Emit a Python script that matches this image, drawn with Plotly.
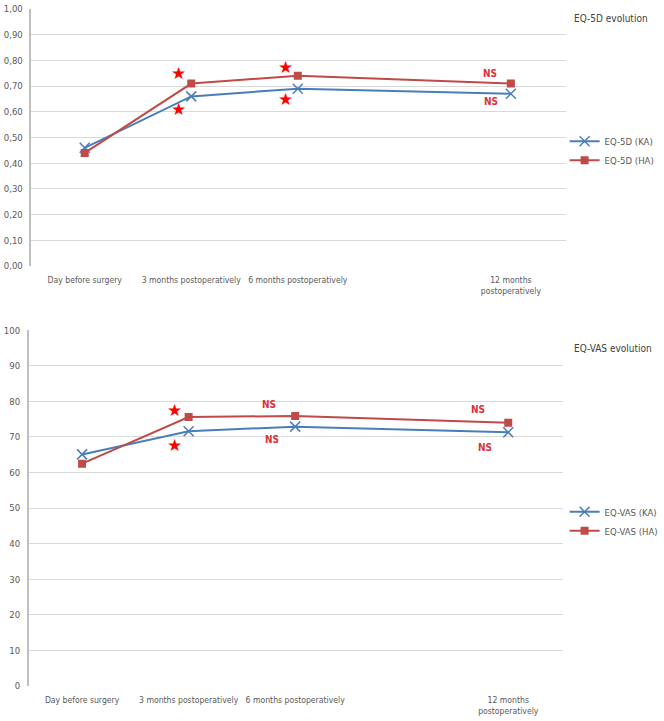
import plotly.graph_objects as go

# ---- data ----
months = [0, 3, 6, 12]
tick_labels = ["Day before surgery", "3 months postoperatively", "6 months postoperatively",
               "12 months<br>postoperatively"]

eq5d_ka = [0.46, 0.66, 0.69, 0.67]
eq5d_ha = [0.44, 0.71, 0.74, 0.71]
eqvas_ka = [65.1, 71.6, 72.9, 71.3]
eqvas_ha = [62.5, 75.6, 75.9, 74.0]

# significance labels: (month position, value, text)
eq5d_marks_x = [2.65, 2.65, 5.65, 5.65, 11.4, 11.45]
eq5d_marks_y = [0.75, 0.61, 0.775, 0.65, 0.75, 0.64]
eq5d_marks_t = ["★", "★", "★", "★", "NS", "NS"]

eqvas_marks_x = [2.6, 2.6, 5.25, 5.35, 11.15, 11.35]
eqvas_marks_y = [77.6, 67.7, 79.2, 69.2, 77.6, 67.0]
eqvas_marks_t = ["★", "★", "NS", "NS", "NS", "NS"]

BLUE = "#4a7ebb"
RED = "#be4b48"
GRID = "#d9d9d9"
TXT = "#595959"
FONT = "Liberation Sans Narrow, DejaVu Sans Condensed, Lato, sans-serif"

fig = go.Figure()

fig.add_trace(go.Scatter(x=months, y=eq5d_ka, name="EQ-5D (KA)", mode="lines+markers",
                         line=dict(color=BLUE, width=2),
                         marker=dict(symbol="x-thin", size=10, line=dict(color=BLUE, width=1.5)),
                         xaxis="x", yaxis="y", legend="legend"))
fig.add_trace(go.Scatter(x=months, y=eq5d_ha, name="EQ-5D (HA)", mode="lines+markers",
                         line=dict(color=RED, width=2),
                         marker=dict(symbol="square", size=8, color=RED),
                         xaxis="x", yaxis="y", legend="legend"))
fig.add_trace(go.Scatter(x=months, y=eqvas_ka, name="EQ-VAS (KA)", mode="lines+markers",
                         line=dict(color=BLUE, width=2),
                         marker=dict(symbol="x-thin", size=10, line=dict(color=BLUE, width=1.5)),
                         xaxis="x2", yaxis="y2", legend="legend2"))
fig.add_trace(go.Scatter(x=months, y=eqvas_ha, name="EQ-VAS (HA)", mode="lines+markers",
                         line=dict(color=RED, width=2),
                         marker=dict(symbol="square", size=8, color=RED),
                         xaxis="x2", yaxis="y2", legend="legend2"))

annotations = []
for xs, ys, ts, xr, yr in [(eq5d_marks_x, eq5d_marks_y, eq5d_marks_t, "x", "y"),
                           (eqvas_marks_x, eqvas_marks_y, eqvas_marks_t, "x2", "y2")]:
    for x, y, t in zip(xs, ys, ts):
        star = t == "★"
        annotations.append(dict(x=x, y=y, xref=xr, yref=yr, text=t if star else "<b>NS</b>",
                                showarrow=False,
                                font=dict(color="#ff0000" if star else "#e0303a",
                                          size=17 if star else 10,
                                          family="DejaVu Sans" if star else FONT)))

annotations.append(dict(x=0.873, y=0.974, xref="paper", yref="paper", text="EQ-5D evolution",
                        showarrow=False, xanchor="left", yanchor="middle",
                        font=dict(size=10, color="#404040", family=FONT)))
annotations.append(dict(x=0.873, y=0.516, xref="paper", yref="paper", text="EQ-VAS evolution",
                        showarrow=False, xanchor="left", yanchor="middle",
                        font=dict(size=10, color="#404040", family=FONT)))

xcommon = dict(tickmode="array", tickvals=months, ticktext=tick_labels, range=[-1.5, 13.55],
               showgrid=False, zeroline=False, showline=False, ticks="", tickangle=0,
               ticklabelstandoff=7,
               automargin=False, tickfont=dict(size=8.6, color=TXT, family=FONT))
ycommon = dict(showgrid=True, gridcolor=GRID, gridwidth=1.3, zeroline=False,
               showline=True, linecolor="#bfbfbf", linewidth=1.5, ticks="", automargin=False,
               ticklabelstandoff=5,
               tickfont=dict(size=9.5, color=TXT, family=FONT))

fig.update_layout(
    width=664, height=721,
    margin=dict(l=0, r=0, t=0, b=0),
    paper_bgcolor="white", plot_bgcolor="white",
    separators=",.",
    xaxis=dict(domain=[0.048, 0.864], anchor="y", **xcommon),
    yaxis=dict(domain=[0.631, 0.9875], anchor="x", range=[0, 1.0], dtick=0.1,
               tickformat=".2f", **ycommon),
    xaxis2=dict(domain=[0.044, 0.860], anchor="y2", **xcommon),
    yaxis2=dict(domain=[0.0485, 0.542], anchor="x2", range=[0, 100], dtick=10, **ycommon),
    legend=dict(x=0.862, y=0.791, xanchor="left", yanchor="middle", bgcolor="rgba(0,0,0,0)",
                font=dict(size=9.5, color=TXT, family=FONT), itemwidth=30, tracegroupgap=2),
    legend2=dict(x=0.862, y=0.277, xanchor="left", yanchor="middle", bgcolor="rgba(0,0,0,0)",
                 font=dict(size=9.5, color=TXT, family=FONT), itemwidth=30, tracegroupgap=2),
    annotations=annotations,
    showlegend=True,
)

fig.write_html("out.html", config={"displayModeBar": False},
               post_script="document.body.style.margin='0';document.body.style.overflow='hidden';")
